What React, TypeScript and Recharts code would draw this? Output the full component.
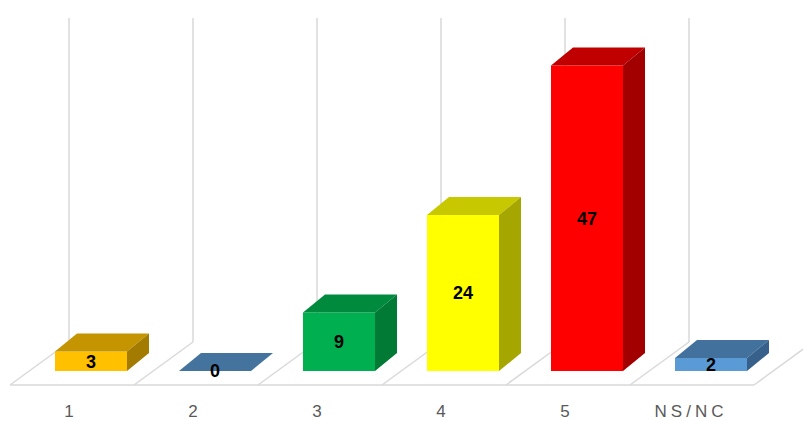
import { BarChart, Bar, XAxis, YAxis, LabelList } from "recharts";

const categories = ["1", "2", "3", "4", "5", "NS/NC"];
const values = [3, 0, 9, 24, 47, 2];
const frontColors = ["#FFC000", "#4472A0", "#00B050", "#FFFF00", "#FF0000", "#5B9BD5"];
const topColors = ["#C49500", "#44749E", "#008A3E", "#C8C800", "#C00000", "#41719C"];
const sideColors = ["#A27B00", "#385F84", "#007A35", "#A6A600", "#A20000", "#37618A"];

const data = categories.map((name, i) => ({ name, value: values[i] }));

const BAR_W = 72;
const GAP = 26;
const DX = 22;
const DY = 18;
const GRID = "#D9D9D9";

// floor segment + back wall gridline for one category
function Floor(props: any) {
  const { x, y, width, height } = props;
  const left = x - GAP;
  const right = x + width + GAP;
  const base = y + height;
  const frontY = base + 14;
  const backY = base - 29;
  return (
    <g>
      <line x1={left - 19} y1={frontY} x2={right - 19} y2={frontY} stroke={GRID} strokeWidth={1.5} />
      <line x1={left - 19} y1={frontY} x2={left + 40} y2={backY} stroke={GRID} strokeWidth={1.5} />
      <line x1={left + 40} y1={backY} x2={left + 40} y2={18} stroke={GRID} strokeWidth={1.5} />
      {props.index === categories.length - 1 && (
        <line x1={right - 19} y1={frontY} x2={right + 40} y2={backY} stroke={GRID} strokeWidth={1.5} />
      )}
    </g>
  );
}

function Bar3D(props: any) {
  const { x, y, width, height, index } = props;
  return (
    <g>
      <rect x={x} y={y} width={width} height={height} fill={frontColors[index]} />
      <polygon
        points={`${x},${y} ${x + DX},${y - DY} ${x + width + DX},${y - DY} ${x + width},${y}`}
        fill={topColors[index]}
      />
      {height > 0 && (
        <polygon
          points={`${x + width},${y} ${x + width + DX},${y - DY} ${x + width + DX},${y + height - DY} ${x + width},${y + height}`}
          fill={sideColors[index]}
        />
      )}
    </g>
  );
}

function Tick(props: any) {
  const { x, y, payload } = props;
  return (
    <text
      x={x - 20}
      y={y + 38}
      textAnchor="middle"
      fill="#595959"
      fontSize={17}
      letterSpacing={4}
      fontFamily="'Liberation Sans', sans-serif"
    >
      {payload.value}
    </text>
  );
}

export default function App() {
  return (
    <div style={{ position: "fixed", left: 0, top: 0, width: 803, height: 421, background: "#fff" }}>
      <BarChart
        width={803}
        height={421}
        data={data}
        margin={{ top: 46, right: 30, bottom: 0, left: 29 }}
        barSize={BAR_W}
      >
        <XAxis dataKey="name" axisLine={false} tickLine={false} height={50} tick={<Tick />} interval={0} />
        <YAxis hide width={0} domain={[0, 50]} />
        <Bar dataKey="value" isAnimationActive={false} shape={<Bar3D />} background={<Floor />}>
          <LabelList
            dataKey="value"
            position="center"
            fill="#000"
            fontSize={18}
            fontWeight="bold"
            fontFamily="'Liberation Sans', sans-serif"
          />
        </Bar>
      </BarChart>
    </div>
  );
}
